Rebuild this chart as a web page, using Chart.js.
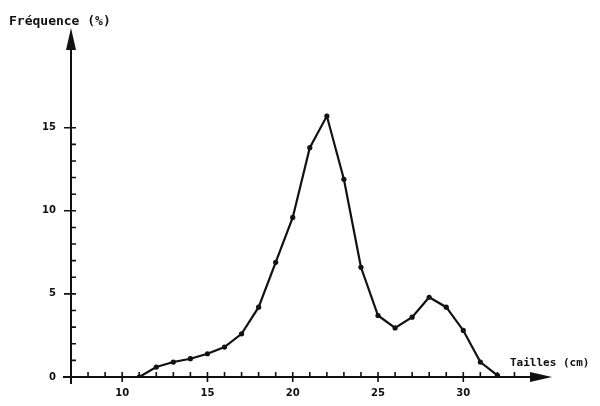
<!DOCTYPE html>
<html>
<head>
<meta charset="utf-8">
<script src="https://cdn.jsdelivr.net/npm/chart.js@4"></script>
<style>
  html, body { margin: 0; padding: 0; background: #fff; }
  #wrap { width: 600px; height: 406px; }
</style>
</head>
<body>
<div id="wrap"><canvas id="tailles"></canvas></div>
<script>
var ctx = document.getElementById('tailles').getContext('2d');
/* Distribution des tailles */
const sizes = [11, 12, 13, 14, 15, 16, 17, 18, 19, 20, 21, 22, 23, 24, 25, 26, 27, 28, 29, 30, 31, 32];
const freq = [0, 0.6, 0.9, 1.1, 1.4, 1.8, 2.6, 4.2, 6.9, 9.6, 13.8, 15.7, 11.9, 6.6, 3.7, 2.95, 3.6, 4.8, 4.2, 2.8, 0.9, 0.1];
const xLabels = [10, 15, 20, 25, 30];
const yLabels = [0, 5, 10, 15];

const ink = '#111';
const tickFont = { family: 'DejaVu Sans', size: 10, weight: 'bold' };

// axes with arrows and inside tick marks, drawn from the chart scales
const axesPlugin = {
    id: 'axes',
    afterDraw(chart) {
        const c = chart.ctx;
        const xs = chart.scales.x, ys = chart.scales.y;
        const x0 = xs.getPixelForValue(7), y0 = ys.getPixelForValue(0);
        const xEnd = xs.getPixelForValue(35.2), yEnd = ys.getPixelForValue(21);
        c.save();
        c.strokeStyle = ink;
        c.fillStyle = ink;
        c.lineWidth = 2;
        c.beginPath();
        c.moveTo(x0 - 8, y0); c.lineTo(xEnd - 18, y0);
        c.moveTo(x0, y0 + 7); c.lineTo(x0, yEnd + 18);
        c.stroke();
        // arrow heads
        c.beginPath();
        c.moveTo(xEnd, y0); c.lineTo(xEnd - 22, y0 - 5); c.lineTo(xEnd - 22, y0 + 5); c.closePath();
        c.fill();
        c.beginPath();
        c.moveTo(x0, yEnd); c.lineTo(x0 - 5, yEnd + 22); c.lineTo(x0 + 5, yEnd + 22); c.closePath();
        c.fill();
        // ticks
        c.lineWidth = 1.6;
        c.beginPath();
        for (let v = 8; v <= 33; v++) {
            const px = xs.getPixelForValue(v);
            const major = xLabels.includes(v);
            c.moveTo(px, y0 - 5);
            c.lineTo(px, major ? y0 + 5 : y0);
        }
        for (let v = 1; v <= 15; v++) {
            const py = ys.getPixelForValue(v);
            const major = yLabels.includes(v);
            c.moveTo(major ? x0 - 7 : x0, py);
            c.lineTo(x0 + 5, py);
        }
        c.stroke();
        // axis titles
        c.textBaseline = 'middle';
        c.textAlign = 'left';
        c.font = 'bold 13px "DejaVu Sans Mono"';
        c.fillText('Fréquence (%)', 9, 22);
        c.font = 'bold 11px "DejaVu Sans Mono"';
        c.fillText('Tailles (cm)', 510, 363);
        c.restore();
    }
};

var myChart = new Chart(ctx, {
    type: 'line',
    data: {
        datasets: [{
            label: 'Fréquence',
            data: sizes.map((s, i) => ({ x: s, y: freq[i] })),
            borderColor: ink,
            backgroundColor: ink,
            borderWidth: 2.2,
            pointRadius: 2.6,
            pointBorderWidth: 0,
            tension: 0
        }]
    },
    options: {
        responsive: true,
        maintainAspectRatio: false,
        animation: false,
        layout: { padding: { top: 28, right: 48, left: 0, bottom: 0 } },
        plugins: {
            legend: { display: false },
            tooltip: { enabled: false }
        },
        scales: {
            x: {
                type: 'linear',
                min: 7,
                max: 35.2,
                afterFit: s => { s.height = 29; },
                grid: { display: false, drawTicks: false },
                border: { display: false },
                afterBuildTicks: s => { s.ticks = xLabels.map(v => ({ value: v })); },
                ticks: { color: ink, font: tickFont, padding: 10, maxRotation: 0 }
            },
            y: {
                min: 0,
                max: 21,
                afterFit: s => { s.width = 71; },
                grid: { display: false, drawTicks: false },
                border: { display: false },
                afterBuildTicks: s => { s.ticks = yLabels.map(v => ({ value: v })); },
                ticks: { color: ink, font: tickFont, padding: 15 }
            }
        }
    },
    plugins: [axesPlugin]
});
</script>
</body>
</html>
